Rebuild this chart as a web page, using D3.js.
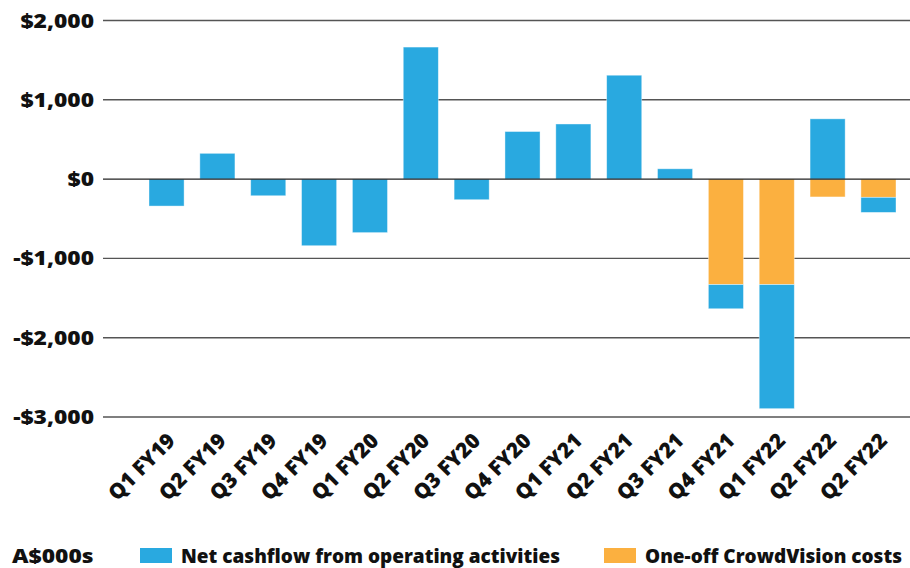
<!DOCTYPE html>
<html>
<head>
<meta charset="utf-8">
<script src="https://cdn.jsdelivr.net/npm/d3@7"></script>
<style>
  html, body { margin: 0; padding: 0; background: #fff; }
  svg { display: block; }
  text { font-family: "Open Sans", sans-serif; font-weight: 800; fill: #111; }
</style>
</head>
<body>
<svg id="chart" width="910" height="568"></svg>
<script>
// Quarterly cashflow, A$000s
const quarters = ["Q1 FY19","Q2 FY19","Q3 FY19","Q4 FY19","Q1 FY20","Q2 FY20","Q3 FY20","Q4 FY20",
                  "Q1 FY21","Q2 FY21","Q3 FY21","Q4 FY21","Q1 FY22","Q2 FY22","Q2 FY22 "];
const netCashflow = [-340, 325, -210, -840, -675, 1665, -260, 600, 695, 1310, 130, -305, -1565, 760, -190];
const oneOffCosts = [0, 0, 0, 0, 0, 0, 0, 0, 0, 0, 0, -1330, -1330, -225, -230];
const yTicks = [2000, 1000, 0, -1000, -2000, -3000];
const seriesNames = ["Net cashflow from operating activities", "One-off CrowdVision costs"];
const seriesColors = ["#29A9E0", "#FBB040"];

const svg = d3.select("#chart");
const plotLeft = 103, plotRight = 910;

const x = d3.scaleBand().domain(quarters).range([149, 896]).paddingInner(0.31).paddingOuter(0);
const y = d3.scaleLinear().domain([-3000, 2000]).range([417, 20.5]);

// Rows for stacking: one-off costs sit next to zero, operating cashflow beyond them
const rows = quarters.map((q, i) => ({ q, oneOff: oneOffCosts[i], net: netCashflow[i] }));
const stack = d3.stack().keys(["oneOff", "net"]).offset(d3.stackOffsetDiverging);
const stacked = stack(rows);
const colorOf = { net: seriesColors[0], oneOff: seriesColors[1] };

// Gridlines and value labels
const fmt = v => (v < 0 ? "-" : "") + "$" + d3.format(",")(Math.abs(v));
svg.append("g").selectAll("line").data(yTicks.filter(v => v !== 0)).join("line")
  .attr("x1", plotLeft).attr("x2", plotRight)
  .attr("y1", d => y(d)).attr("y2", d => y(d))
  .attr("stroke", "#555").attr("stroke-width", 1.4);

svg.append("g").selectAll("text").data(yTicks).join("text")
  .attr("text-anchor", "end")
  .attr("transform", d => `translate(94,${y(d) + 7}) scale(1.14,1)`)
  .style("font-size", "20px")
  .text(fmt);

// Bars
svg.append("g").selectAll("g").data(stacked).join("g")
  .attr("fill", d => colorOf[d.key])
  .selectAll("rect").data(d => d.filter(s => s[1] - s[0] !== 0)).join("rect")
  .attr("x", d => x(d.data.q))
  .attr("width", x.bandwidth())
  .attr("y", d => y(d[1]))
  .attr("height", d => y(d[0]) - y(d[1]))
  .attr("stroke", "#fff").attr("stroke-opacity", 0.5).attr("stroke-width", 0.8);

// Zero line above the bars
svg.append("line")
  .attr("x1", plotLeft).attr("x2", plotRight)
  .attr("y1", y(0)).attr("y2", y(0))
  .attr("stroke", "#222").attr("stroke-width", 1.4);

// Category labels, rotated
svg.append("g").selectAll("text").data(quarters).join("text")
  .attr("text-anchor", "end")
  .attr("transform", d => `translate(${x(d) + x.bandwidth() / 2 + 10},442) rotate(-45)`)
  .style("font-size", "21px")
  .text(d => d.trim());

// Legend
const legend = svg.append("g");
legend.append("text").style("font-size", "20px")
  .attr("transform", "translate(12,563) scale(1.14,1)")
  .text("A$000s");
const legendItems = [
  { name: seriesNames[0], color: seriesColors[0], sx: 140, tx: 181, len: 379 },
  { name: seriesNames[1], color: seriesColors[1], sx: 604, tx: 645, len: 257 }
];
legendItems.forEach(it => {
  legend.append("rect").attr("x", it.sx).attr("y", 548).attr("width", 32).attr("height", 15)
    .attr("fill", it.color);
  legend.append("text").attr("x", it.tx).attr("y", 563).style("font-size", "19px")
    .attr("textLength", it.len).attr("lengthAdjust", "spacingAndGlyphs")
    .text(it.name);
});
</script>
</body>
</html>
